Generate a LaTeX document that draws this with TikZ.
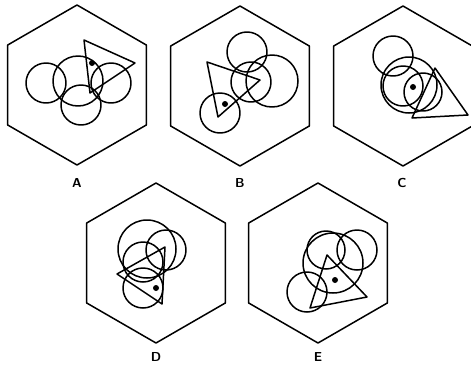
\documentclass[tikz,border=0pt]{standalone}
\begin{document}
\begin{tikzpicture}[x=1pt,y=-1pt,line width=1.5pt,line join=round,
  fig/.style={draw=black},
  dotmark/.style={fill=black},
  lbl/.style={font=\sffamily\bfseries\fontsize{13}{15}\selectfont,inner sep=0pt}]
\useasboundingbox (0,0) rectangle (471,367);
\fill[white] (0,0) rectangle (471,367);
% hexagons
\foreach \cx/\cy in {77/85,240/86,403/86,156/263,318/263}{
  \draw[fig] (\cx,\cy) ++(0,-80) -- ++(69.3,40) -- ++(0,80) -- ++(-69.3,40) -- ++(-69.3,-40) -- ++(0,-80) -- cycle;
}
% A
\foreach \x/\y/\r in {46/83/20,78/81/25,111/83/20,81/105/20}{\draw[fig] (\x,\y) circle[radius=\r pt];}
\draw[fig] (84,40) -- (135,63) -- (90,93) -- cycle;
\fill[dotmark] (92,63) circle[radius=3pt];
% B
\foreach \x/\y/\r in {247/52/20,272/81/26,251/82/20,220/113/20}{\draw[fig] (\x,\y) circle[radius=\r pt];}
\draw[fig] (207,62) -- (260,80) -- (218,117) -- cycle;
\fill[dotmark] (225,104) circle[radius=3pt];
% C
\foreach \x/\y/\r in {393/56/20,409/85/28,403/86/20,423/92/19}{\draw[fig] (\x,\y) circle[radius=\r pt];}
\draw[fig] (435,68) -- (468,115) -- (412,118) -- cycle;
\fill[dotmark] (413,87) circle[radius=3pt];
% D
\foreach \x/\y/\r in {147/249/29,166/250/20,143/262/20,143/288/20}{\draw[fig] (\x,\y) circle[radius=\r pt];}
\draw[fig] (165,247) -- (117,274) -- (162,304) -- cycle;
\fill[dotmark] (156,288) circle[radius=3pt];
% E
\foreach \x/\y/\r in {333/263/30,326/250/19,357/250/20,307/292/20}{\draw[fig] (\x,\y) circle[radius=\r pt];}
\draw[fig] (327,255) -- (367,297) -- (310,308) -- cycle;
\fill[dotmark] (335,280) circle[radius=3pt];
% labels
\node[lbl] (la) at (77,183) {A};
\node[lbl] (lb) at (240,183) {B};
\node[lbl] (lc) at (402,183) {C};
\node[lbl] (ld) at (156,357) {D};
\node[lbl] (le) at (318,357) {E};
\end{tikzpicture}
\end{document}
